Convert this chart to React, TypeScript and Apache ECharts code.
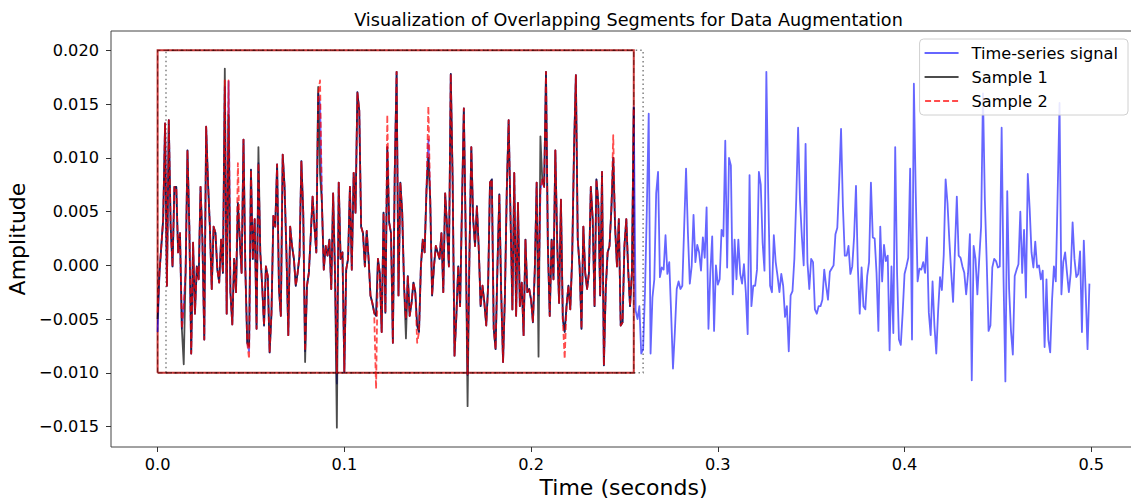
import React, { useEffect, useRef } from "react";
import * as echarts from "echarts";

// ---- data ----
const SAMPLE_RATE = 1000; // samples per second
const SEGMENT_LENGTH = 256;

const signal: number[] = [
  -0.0062, -0.0007, 0.0018, 0.0043, 0.0132, -0.0019, 0.0135, 0.0036, -0.0001, 0.0073,
  0.0073, 0.0012, 0.0030, -0.0059, -0.0038, -0.0007, 0.0107, 0.0036, -0.0082, 0.0021,
  -0.0045, -0.0001, -0.0013, 0.0073, 0.0024, -0.0069, 0.0129, 0.0077, 0.0036, -0.0022,
  0.0036, 0.0030, -0.0004, -0.0016, 0.0024, -0.0007, 0.0166, -0.0045, 0.0171, -0.0025,
  -0.0055, 0.0006, -0.0025, 0.0058, 0.0024, -0.0007, 0.0117, -0.0004, -0.0072, -0.0080,
  0.0089, 0.0006, 0.0043, -0.0059, 0.0095, 0.0012, -0.0019, -0.0056, -0.0001, -0.0010,
  -0.0081, -0.0044, 0.0046, 0.0036, 0.0094, -0.0022, -0.0047, 0.0103, 0.0073, 0.0012,
  -0.0065, 0.0036, 0.0018, 0.0006, -0.0019, -0.0007, 0.0009, 0.0097, 0.0049, -0.0080,
  -0.0019, -0.0007, 0.0027, 0.0064, 0.0036, 0.0012, 0.0160, 0.0150, 0.0058, -0.0004,
  0.0018, 0.0009, 0.0024, -0.0022, 0.0067, -0.0007, -0.0110, 0.0077, 0.0006, 0.0012,
  -0.0099, -0.0004, 0.0006, 0.0073, -0.0004, 0.0086, 0.0049, 0.0161, 0.0144, 0.0036,
  0.0030, -0.0001, 0.0032, 0.0006, -0.0028, -0.0035, -0.0044, -0.0047, 0.0006, -0.0007,
  -0.0062, 0.0049, -0.0044, 0.0110, 0.0040, 0.0030, -0.0072, 0.0086, 0.0180, -0.0028,
  0.0077, 0.0049, -0.0019, -0.0050, -0.0010, -0.0047, -0.0035, -0.0016, -0.0025, -0.0056,
  -0.0062, -0.0001, 0.0024, 0.0012, 0.0070, 0.0117, 0.0061, -0.0028, -0.0001, 0.0018,
  0.0012, 0.0006, 0.0030, -0.0025, 0.0067, 0.0036, -0.0001, 0.0178, 0.0080, -0.0084,
  -0.0047, -0.0001, -0.0038, 0.0055, 0.0146, 0.0030, -0.0102, 0.0009, 0.0110, 0.0043,
  0.0018, 0.0055, 0.0015, -0.0038, -0.0019, -0.0035, -0.0056, -0.0019, 0.0077, 0.0080,
  -0.0059, -0.0078, -0.0001, 0.0066, -0.0025, -0.0090, -0.0028, 0.0070, 0.0135, 0.0046,
  -0.0041, 0.0086, -0.0047, 0.0058, -0.0038, -0.0016, -0.0065, 0.0024, -0.0025, -0.0022,
  -0.0032, -0.0053, -0.0004, 0.0077, -0.0028, 0.0070, 0.0080, 0.0073, 0.0180, 0.0018,
  -0.0047, 0.0024, -0.0013, 0.0107, 0.0021, -0.0035, 0.0061, -0.0050, -0.0062, -0.0038,
  -0.0019, -0.0041, 0.0006, 0.0107, 0.0177, 0.0024, -0.0001, -0.0059, 0.0036, -0.0007,
  -0.0022, -0.0007, 0.0073, 0.0043, -0.0038, 0.0080, 0.0058, -0.0028, 0.0087, -0.0093,
  -0.0022, 0.0012, 0.0018, 0.0052, 0.0100, 0.0036, -0.0001, 0.0043, -0.0056, -0.0053,
  0.0018, 0.0043, -0.0004, -0.0038, -0.0007, 0.0147, -0.0042, -0.0050, -0.0038, -0.0082,
  -0.0078, -0.0025, 0.0052, 0.0141, -0.0082, -0.0030, -0.0013, 0.0067, 0.0087, -0.0011,
  -0.0002, -0.0004, 0.0028, -0.0008, 0.0003, -0.0044, -0.0096, -0.0062, -0.0022, -0.0015,
  -0.0022, -0.0019, 0.0036, 0.0090, 0.0030, -0.0017, -0.0001, 0.0047, 0.0003, 0.0019,
  0.0012, -0.0005, 0.0026, 0.0007, 0.0054, -0.0059, -0.0007, 0.0027, -0.0061, 0.0000,
  -0.0018, -0.0013, 0.0033, 0.0027, 0.0116, -0.0002, 0.0100, 0.0093, -0.0027, 0.0024,
  -0.0013, 0.0024, -0.0008, -0.0017, 0.0001, -0.0025, -0.0064, 0.0084, -0.0038, -0.0019,
  -0.0019, -0.0004, 0.0087, 0.0075, 0.0021, -0.0005, 0.0180, 0.0067, -0.0019, -0.0025,
  0.0028, 0.0003, -0.0010, -0.0025, -0.0008, -0.0019, -0.0048, -0.0038, -0.0080, -0.0028,
  -0.0024, 0.0006, 0.0061, 0.0128, 0.0061, 0.0027, 0.0000, 0.0113, 0.0003, -0.0022,
  0.0006, 0.0003, -0.0041, -0.0045, -0.0038, -0.0038, -0.0032, -0.0004, -0.0019, -0.0032,
  -0.0006, -0.0003, 0.0000, 0.0029, 0.0035, 0.0077, 0.0127, 0.0055, 0.0009, 0.0009,
  0.0018, -0.0008, -0.0001, 0.0027, 0.0074, -0.0002, -0.0045, -0.0002, -0.0038, -0.0041,
  -0.0010, 0.0003, 0.0077, 0.0026, 0.0025, -0.0007, -0.0061, 0.0036, -0.0015, 0.0019,
  0.0004, 0.0009, -0.0079, -0.0001, -0.0063, 0.0110, -0.0007, -0.0069, -0.0074, -0.0044,
  -0.0008, -0.0001, 0.0007, 0.0090, -0.0069, 0.0169, 0.0067, -0.0015, -0.0003, -0.0004,
  0.0003, -0.0007, 0.0026, -0.0044, -0.0065, -0.0015, -0.0056, -0.0082, -0.0042, -0.0011,
  -0.0023, 0.0010, 0.0080, 0.0058, 0.0023, -0.0007, -0.0034, 0.0015, 0.0064, 0.0009,
  0.0007, -0.0001, -0.0007, -0.0027, -0.0008, 0.0029, -0.0107, 0.0018, 0.0006, -0.0027,
  0.0006, 0.0036, 0.0160, 0.0061, 0.0004, -0.0061, -0.0056, -0.0002, 0.0006, 0.0004,
  -0.0002, -0.0001, 0.0128, -0.0011, -0.0108, 0.0069, -0.0022, -0.0061, -0.0083, -0.0010,
  -0.0004, 0.0001, 0.0050, -0.0007, 0.0033, -0.0030, 0.0085, 0.0053, 0.0012, -0.0002,
  0.0022, -0.0002, 0.0000, -0.0013, -0.0005, -0.0076, -0.0013, -0.0069, -0.0081, -0.0032,
  -0.0001, -0.0015, 0.0067, 0.0151, -0.0027, 0.0003, 0.0012, -0.0007, -0.0025, -0.0007,
  0.0040, 0.0006, -0.0011, -0.0008, 0.0013, -0.0062, 0.0023, -0.0025, -0.0078, -0.0017,
];

// Samples are the first segment of the signal; where they visibly depart from it
// in the picture, the read values are listed here as [index, value].
const sample1Departures: [number, number][] = [
  [0, -0.005], [14, -0.0092], [36, 0.0183], [38, 0.014], [49, -0.0075], [54, 0.011],
  [79, -0.009], [86, 0.0166], [87, 0.0085], [96, -0.0151], [133, -0.0068], [145, 0.01],
  [166, -0.0131], [204, -0.0085], [205, 0.012],
];
const sample2Departures: [number, number][] = [
  [0, -0.0044], [36, 0.0172], [38, 0.0172], [43, 0.0095], [49, -0.0087], [87, 0.0172],
  [96, -0.01], [117, -0.0115], [123, 0.014], [139, -0.0072], [145, 0.0148], [218, -0.0087],
  [244, 0.0121],
];

// Segment windows (seconds) and their amplitude range
const sample1Window = [0, 0.255];
const sample2Window = [0.0045, 0.26];
const windowAmplitude = [-0.01, 0.02];

const xTickValues = [0, 0.1, 0.2, 0.3, 0.4, 0.5];
const yTickValues = [-0.015, -0.01, -0.005, 0, 0.005, 0.01, 0.015, 0.02];

const seriesNames = ["Time-series signal", "Sample 1", "Sample 2"];

// ---- derived tables ----
const time = signal.map((_, i) => i / SAMPLE_RATE);
const signalPoints = signal.map((v, i) => [time[i], v]);
const buildSample = (departures: [number, number][]) => {
  const seg = signal.slice(0, SEGMENT_LENGTH);
  departures.forEach(([i, v]) => {
    seg[i] = v;
  });
  return seg.map((v, i) => [time[i], v]);
};
const rectPoints = (w: number[]) => [
  [w[0], windowAmplitude[0]],
  [w[1], windowAmplitude[0]],
  [w[1], windowAmplitude[1]],
  [w[0], windowAmplitude[1]],
  [w[0], windowAmplitude[0]],
];

const FONT = "DejaVu Sans";
const SOLID_ICON = "path://M0,0H34V2H0Z";
const DASHED_ICON = "path://M0,0H6V2H0Z M9,0H15V2H9Z M18,0H24V2H18Z M27,0H33V2H27Z";

export default function App() {
  const ref = useRef<HTMLDivElement>(null);
  useEffect(() => {
    if (!ref.current) return;
    const chart = echarts.init(ref.current, undefined, { renderer: "svg" });
    const rectSeries = (w: number[], color: string, width: number, type: any) => ({
      type: "line",
      data: rectPoints(w),
      symbol: "none",
      silent: true,
      z: 1,
      lineStyle: { color, width, type, join: "miter" },
    });
    chart.setOption({
      animation: false,
      backgroundColor: "#ffffff",
      title: {
        text: "Visualization of Overlapping Segments for Data Augmentation",
        left: 623.5,
        top: 6,
        textAlign: "center",
        textStyle: { fontFamily: FONT, fontSize: 17.6, fontWeight: "normal", color: "#000" },
      },
      legend: {
        data: [
          { name: seriesNames[0], icon: SOLID_ICON, itemStyle: { color: "rgba(0,0,255,0.6)" } },
          { name: seriesNames[1], icon: SOLID_ICON, itemStyle: { color: "rgba(0,0,0,0.7)" } },
          { name: seriesNames[2], icon: DASHED_ICON, itemStyle: { color: "rgba(255,0,0,0.7)" } },
        ],
        orient: "vertical",
        right: 3,
        top: 39,
        itemWidth: 34,
        itemHeight: 2,
        itemGap: 6,
        padding: [5, 10, 5, 5],
        backgroundColor: "rgba(255,255,255,0.85)",
        borderColor: "#d0d0d0",
        borderWidth: 1,
        borderRadius: 4,
        textStyle: { fontFamily: FONT, fontSize: 16.2, color: "#000", padding: [0, 0, 0, 8], lineHeight: 18 },
      },
      grid: {
        left: 111,
        top: 31,
        width: 1025,
        height: 416,
        show: true,
        borderColor: "#444",
        borderWidth: 1,
        backgroundColor: "transparent",
        containLabel: false,
        outerBoundsMode: "none",
      },
      xAxis: {
        type: "value",
        min: -0.02495,
        max: 0.52395,
        name: "Time (seconds)",
        nameLocation: "middle",
        nameGap: 26,
        nameTextStyle: { fontFamily: FONT, fontSize: 22, color: "#000" },
        axisLine: { show: false, onZero: false },
        splitLine: { show: false },
        axisTick: { show: true, length: 5, lineStyle: { color: "#333" }, customValues: xTickValues },
        axisLabel: {
          customValues: xTickValues,
          fontFamily: FONT,
          fontSize: 16.2,
          color: "#000",
          margin: 9,
          formatter: (v: number) => v.toFixed(1),
        },
      },
      yAxis: {
        type: "value",
        min: -0.0169,
        max: 0.0218,
        name: "Amplitude",
        nameLocation: "middle",
        nameRotate: 90,
        nameGap: 78,
        nameTextStyle: { fontFamily: FONT, fontSize: 22, color: "#000" },
        axisLine: { show: false, onZero: false },
        splitLine: { show: false },
        axisTick: { show: true, length: 5, lineStyle: { color: "#333" }, customValues: yTickValues },
        axisLabel: {
          customValues: yTickValues,
          fontFamily: FONT,
          fontSize: 16.2,
          color: "#000",
          margin: 12,
          formatter: (v: number) => (v < -1e-12 ? "\u2212" : "") + Math.abs(v).toFixed(3),
        },
      },
      series: [
        rectSeries(sample1Window, "rgba(190,20,20,0.85)", 2, "solid"),
        rectSeries(sample1Window, "rgba(60,0,0,0.55)", 1.2, [5, 3]),
        rectSeries(sample2Window, "rgba(0,0,0,0.5)", 1.5, [1.5, 3]),
        {
          name: seriesNames[0],
          type: "line",
          data: signalPoints,
          symbol: "none",
          showSymbol: false,
          z: 2,
          lineStyle: { color: "rgba(0,0,255,0.6)", width: 1.8, join: "round" },
          itemStyle: { color: "rgba(0,0,255,0.6)" },
        },
        {
          name: seriesNames[1],
          type: "line",
          data: buildSample(sample1Departures),
          symbol: "none",
          showSymbol: false,
          z: 3,
          lineStyle: { color: "rgba(0,0,0,0.7)", width: 1.8, join: "round" },
          itemStyle: { color: "rgba(0,0,0,0.7)" },
        },
        {
          name: seriesNames[2],
          type: "line",
          data: buildSample(sample2Departures),
          symbol: "none",
          showSymbol: false,
          z: 4,
          lineStyle: { color: "rgba(255,0,0,0.7)", width: 1.8, type: [6, 3], join: "round" },
          itemStyle: { color: "rgba(255,0,0,0.7)" },
        },
      ],
    });
    return () => chart.dispose();
  }, []);
  return (
    <div
      ref={ref}
      style={{ position: "absolute", left: 0, top: 0, width: 1131, height: 499, background: "#fff" }}
    />
  );
}
